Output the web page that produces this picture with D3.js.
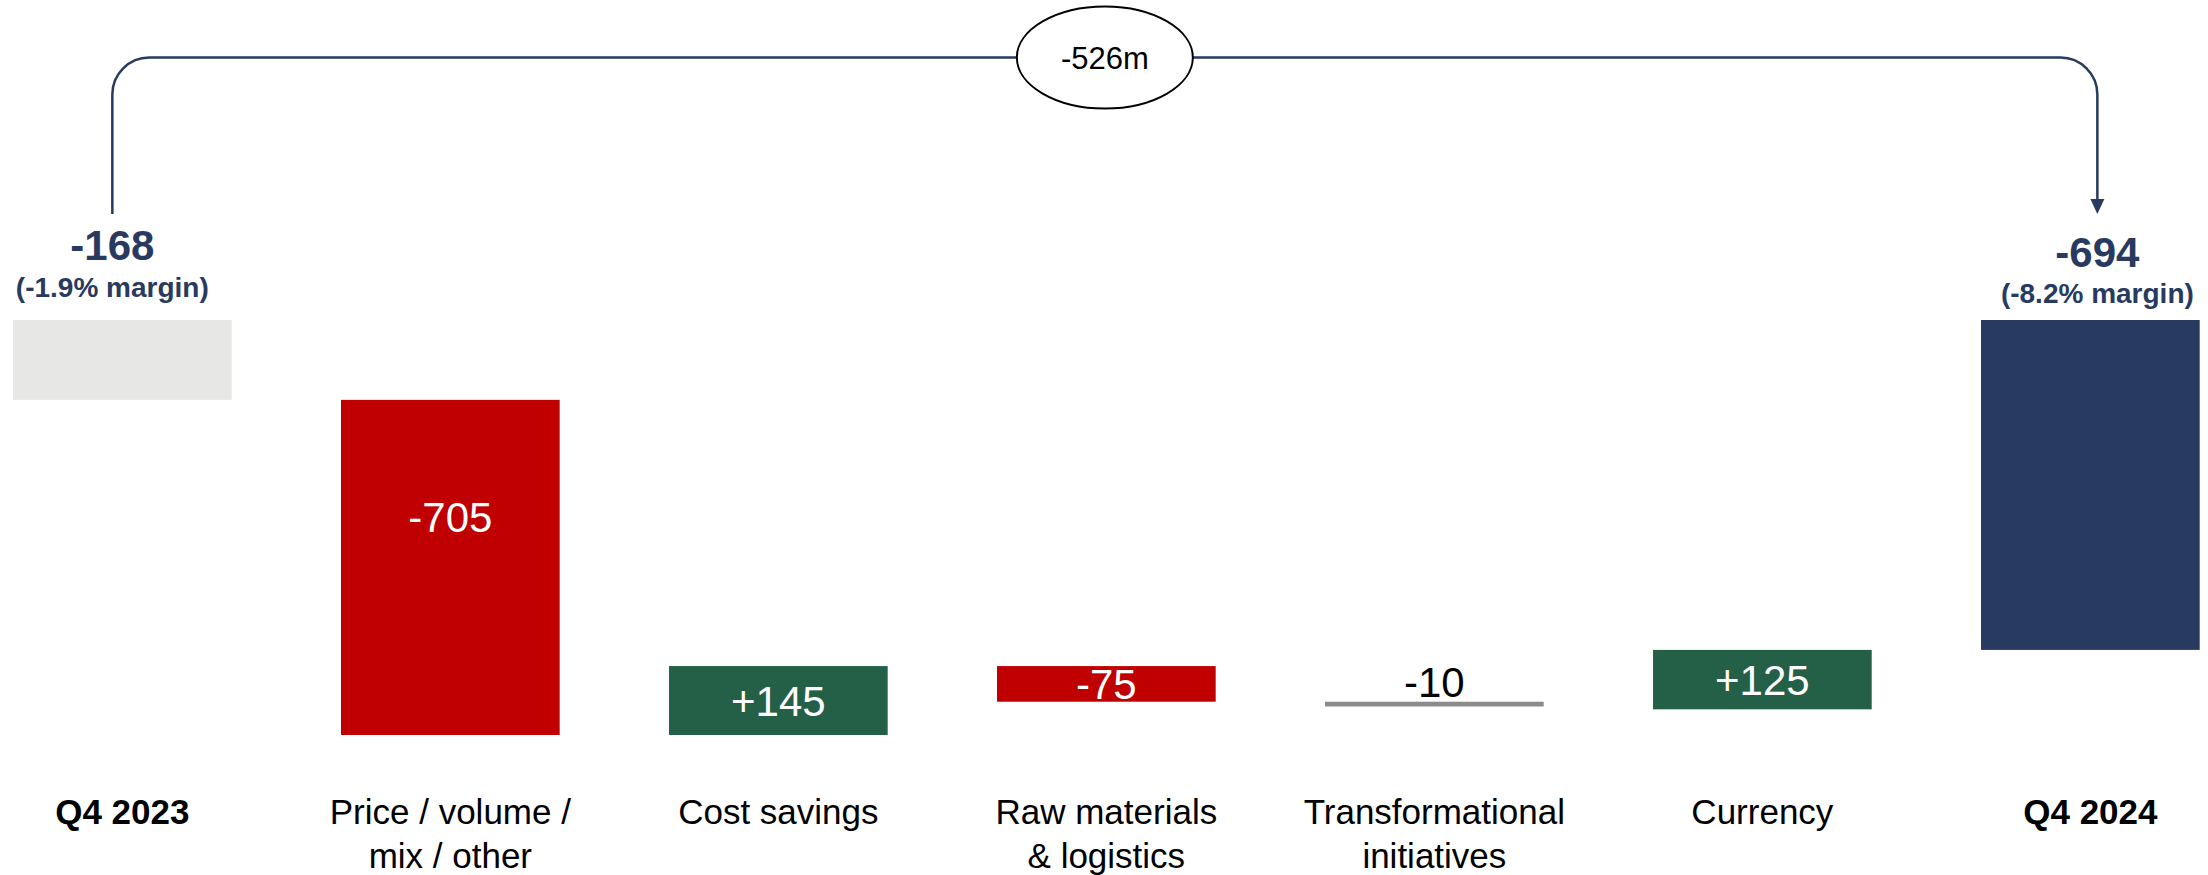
<!DOCTYPE html>
<html>
<head>
<meta charset="utf-8">
<script src="https://cdn.jsdelivr.net/npm/d3@7"></script>
<style>
  html, body { margin: 0; padding: 0; background: #ffffff; }
  svg { display: block; font-family: "Liberation Sans", Arial, Helvetica, sans-serif; }
</style>
</head>
<body>
<svg id="chart" width="2208" height="875"></svg>
<script>
// Adjusted EBITDA bridge, Q4 2023 -> Q4 2024 (in millions)
const categories = ["Q4 2023", "Price / volume / mix / other", "Cost savings",
  "Raw materials & logistics", "Transformational initiatives", "Currency", "Q4 2024"];
const categoryLines = [["Q4 2023"], ["Price / volume /", "mix / other"], ["Cost savings"],
  ["Raw materials", "& logistics"], ["Transformational", "initiatives"], ["Currency"], ["Q4 2024"]];
const kinds = ["total", "delta", "delta", "delta", "delta", "delta", "total"];
const values = [-168, -705, 145, -75, -10, 125, -694];
const valueLabels = ["-168", "-705", "+145", "-75", "-10", "+125", "-694"];
const marginLabels = ["(-1.9% margin)", "", "", "", "", "", "(-8.2% margin)"];
const bridgeLabel = "-526m";

const colors = {
  start: "#e7e7e5", end: "#283a5f", up: "#245f47", down: "#c00000",
  flat: "#8c8c8c", navy: "#283a5f", text: "#000000"
};

const svg = d3.select("#chart");

// Lay out the bridge: totals stand on zero, steps float on the running total.
// The last step closes onto the reported total so rounding in the published
// figures does not leave the final bar detached.
const bars = [];
let running = 0;
values.forEach((v, i) => {
  if (kinds[i] === "total") {
    bars.push({ i, y0: 0, y1: v });
    running = v;
  } else if (i === values.length - 2 && kinds[i + 1] === "total") {
    const end = values[i + 1];
    bars.push({ i, y0: end - v, y1: end });
    running = end;
  } else {
    bars.push({ i, y0: running, y1: running + v });
    running += v;
  }
});

const x = d3.scaleBand()
  .domain(categories)
  .range([13, 2199.7])
  .paddingInner(1 / 3)
  .paddingOuter(0);

const lowest = d3.min(bars, b => Math.min(b.y0, b.y1));
const y = d3.scaleLinear()
  .domain([0, lowest])
  .range([320, 735]);

function fillOf(b) {
  if (kinds[b.i] === "total") return b.i === 0 ? colors.start : colors.end;
  const v = values[b.i];
  if (Math.abs(v) < 20) return colors.flat;
  return v > 0 ? colors.up : colors.down;
}

const g = svg.append("g");

// bars
g.selectAll("rect.bar")
  .data(bars)
  .join("rect")
  .attr("class", "bar")
  .attr("x", b => x(categories[b.i]))
  .attr("width", x.bandwidth())
  .attr("y", b => y(Math.max(b.y0, b.y1)))
  .attr("height", b => Math.abs(y(b.y1) - y(b.y0)))
  .attr("fill", fillOf);

// step value labels
bars.filter(b => kinds[b.i] === "delta").forEach(b => {
  const top = y(Math.max(b.y0, b.y1));
  const h = Math.abs(y(b.y1) - y(b.y0));
  const cx = x(categories[b.i]) + x.bandwidth() / 2;
  const thin = h < 20;
  g.append("text")
    .attr("x", cx)
    .attr("y", thin ? top - 5 : top + Math.min(h / 2, 117))
    .attr("dy", thin ? 0 : "0.36em")
    .attr("text-anchor", "middle")
    .attr("font-size", 42)
    .attr("fill", thin ? colors.text : "#ffffff")
    .text(valueLabels[b.i]);
});

// total labels above the start and end bars
const legOffset = [-10, 7];
const totalLift = [[60, 23], [53, 17]];
bars.filter(b => kinds[b.i] === "total").forEach((b, k) => {
  const top = y(0);
  const cx = x(categories[b.i]) + x.bandwidth() / 2 + legOffset[k];
  g.append("text")
    .attr("x", cx).attr("y", top - totalLift[k][0])
    .attr("text-anchor", "middle")
    .attr("font-size", 42).attr("font-weight", "bold")
    .attr("fill", colors.navy)
    .text(valueLabels[b.i]);
  g.append("text")
    .attr("x", cx).attr("y", top - totalLift[k][1])
    .attr("text-anchor", "middle")
    .attr("font-size", 28).attr("font-weight", "bold")
    .attr("fill", colors.navy)
    .text(marginLabels[b.i]);
});

// category labels
const labelG = g.append("g");
categories.forEach((c, i) => {
  const t = labelG.append("text")
    .attr("x", x(c) + x.bandwidth() / 2)
    .attr("y", 824)
    .attr("text-anchor", "middle")
    .attr("font-size", 35)
    .attr("font-weight", kinds[i] === "total" ? "bold" : "normal")
    .attr("fill", colors.text);
  categoryLines[i].forEach((line, j) => {
    t.append("tspan")
      .attr("x", x(c) + x.bandwidth() / 2)
      .attr("dy", j === 0 ? 0 : 44)
      .text(line);
  });
});

// bracket connecting the two totals, with the net change in the middle
const xL = x(categories[0]) + x.bandwidth() / 2 + legOffset[0];
const xR = x(categories[categories.length - 1]) + x.bandwidth() / 2 + legOffset[1];
const yTop = 57.5;
const legBottom = y(0) - 106;
const r = 37;
const arrowLen = 15;

const bracket = d3.path();
bracket.moveTo(xL, legBottom);
bracket.lineTo(xL, yTop + r);
bracket.arcTo(xL, yTop, xL + r, yTop, r);
bracket.lineTo(xR - r, yTop);
bracket.arcTo(xR, yTop, xR, yTop + r, r);
bracket.lineTo(xR, legBottom - arrowLen + 1);

g.append("path")
  .attr("d", bracket.toString())
  .attr("fill", "none")
  .attr("stroke", colors.navy)
  .attr("stroke-width", 2.5);

g.append("path")
  .attr("d", d3.line()([[xR - 7, legBottom - arrowLen], [xR + 7, legBottom - arrowLen], [xR, legBottom]]) + "Z")
  .attr("fill", colors.navy);

const midX = (xL + xR) / 2;
g.append("ellipse")
  .attr("cx", midX).attr("cy", yTop)
  .attr("rx", 88).attr("ry", 51)
  .attr("fill", "#ffffff")
  .attr("stroke", "#000000")
  .attr("stroke-width", 2);

g.append("text")
  .attr("x", midX).attr("y", yTop)
  .attr("dy", "0.36em")
  .attr("text-anchor", "middle")
  .attr("font-size", 31)
  .attr("fill", colors.text)
  .text(bridgeLabel);
</script>
</body>
</html>
